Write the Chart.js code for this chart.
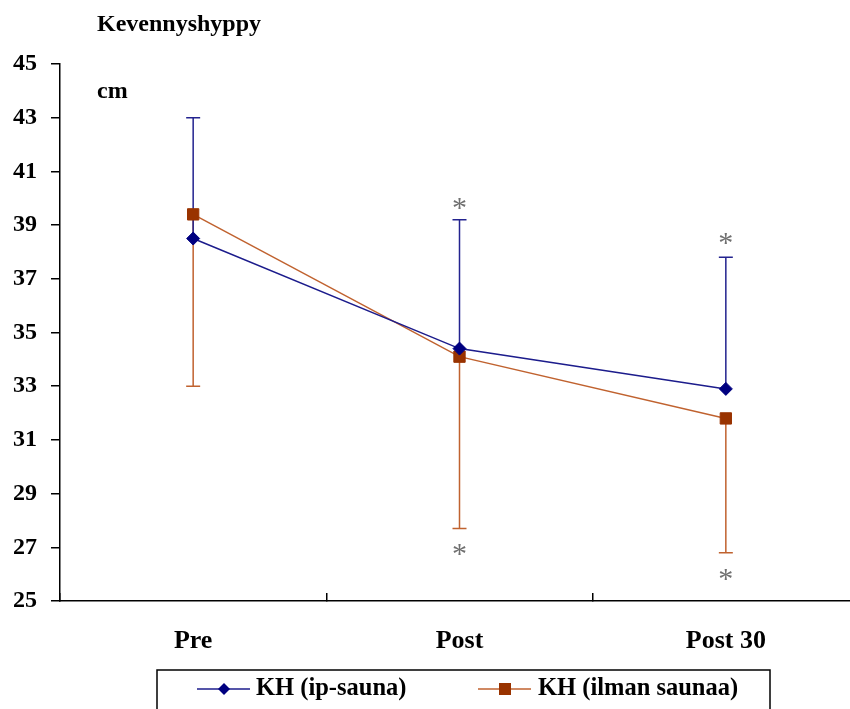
<!DOCTYPE html>
<html>
<head>
<meta charset="utf-8">
<script src="https://cdn.jsdelivr.net/npm/chart.js@4"></script>
<style>
  html, body { margin: 0; padding: 0; background: #fff; overflow: hidden; }
  #wrap { width: 850px; height: 709px; overflow: hidden; }
</style>
</head>
<body>
<div id="wrap"><canvas id="chart" width="868" height="709"></canvas></div>
<script>
// mittauskerrat ja keskiarvot (cm)
const ajankohdat = ['Pre', 'Post', 'Post 30'];
const ipSauna = [38.5, 34.4, 32.9];
const ilmanSaunaa = [39.4, 34.1, 31.8];
// keskihajonnat: ip-sauna ylös, ilman saunaa alas
const ipSaunaSD = [4.5, 4.8, 4.9];
const ilmanSaunaaSD = [6.4, 6.4, 5.0];
// tähtimerkkien paikat (merkitsevä ero)
const tahtiYlos = [null, 39.8, 38.5];
const tahtiAlas = [null, 26.9, 26.0];

const serif = '"Liberation Serif", "Times New Roman", serif';

const errorBars = {
  id: 'errorBars',
  beforeDatasetsDraw(chart) {
    const ctx = chart.ctx;
    const y = chart.scales.y;
    const draw = (dsIndex, sd, dir, color) => {
      const meta = chart.getDatasetMeta(dsIndex);
      const vals = chart.data.datasets[dsIndex].data;
      ctx.save();
      ctx.strokeStyle = color;
      ctx.lineWidth = 1.5;
      meta.data.forEach((pt, i) => {
        const x = pt.x;
        const y0 = y.getPixelForValue(vals[i]);
        const y1 = y.getPixelForValue(vals[i] + dir * sd[i]);
        ctx.beginPath();
        ctx.moveTo(x, y0);
        ctx.lineTo(x, y1);
        ctx.moveTo(x - 7, y1);
        ctx.lineTo(x + 7, y1);
        ctx.stroke();
      });
      ctx.restore();
    };
    draw(1, ilmanSaunaaSD, -1, '#c0622f');
    draw(0, ipSaunaSD, 1, '#23238f');
  }
};

const extras = {
  id: 'extras',
  afterDraw(chart) {
    const ctx = chart.ctx;
    const x = chart.scales.x;
    const y = chart.scales.y;
    ctx.save();
    // otsikko ja yksikkö
    ctx.fillStyle = '#000';
    ctx.font = 'bold 24px ' + serif;
    ctx.textAlign = 'left';
    ctx.textBaseline = 'middle';
    ctx.fillText('Kevennyshyppy', 97, 25);
    ctx.fillText('cm', 97, 92);

    // tähtimerkit
    ctx.font = '30px ' + serif;
    ctx.fillStyle = '#707070';
    ctx.textAlign = 'center';
    ctx.textBaseline = 'alphabetic';
    const m = ctx.measureText('*');
    const off = (m.actualBoundingBoxAscent - m.actualBoundingBoxDescent) / 2;
    [tahtiYlos, tahtiAlas].forEach(arr => {
      arr.forEach((v, i) => {
        if (v === null) return;
        ctx.fillText('*', x.getPixelForValue(i), y.getPixelForValue(v) + off);
      });
    });

    // selite laatikossa
    ctx.strokeStyle = '#000';
    ctx.lineWidth = 1.5;
    ctx.strokeRect(157, 670, 613, 60);
    ctx.font = 'bold 24.5px ' + serif;
    ctx.textAlign = 'left';
    ctx.textBaseline = 'middle';
    const items = [
      { x0: 197, tx: 256 },
      { x0: 478, tx: 538 }
    ];
    chart.data.datasets.forEach((ds, i) => {
      const it = items[i];
      const cy = 689;
      ctx.strokeStyle = ds.borderColor;
      ctx.lineWidth = 1.5;
      ctx.beginPath();
      ctx.moveTo(it.x0, cy);
      ctx.lineTo(it.x0 + 53, cy);
      ctx.stroke();
      ctx.fillStyle = ds.pointBackgroundColor;
      ctx.beginPath();
      const cx = it.x0 + 27;
      if (ds.pointStyle === 'rectRot') {
        ctx.moveTo(cx - 6, cy);
        ctx.lineTo(cx, cy - 6);
        ctx.lineTo(cx + 6, cy);
        ctx.lineTo(cx, cy + 6);
        ctx.closePath();
      } else {
        ctx.rect(cx - 6, cy - 6, 12, 12);
      }
      ctx.fill();
      ctx.fillStyle = '#000';
      ctx.fillText(ds.label, it.tx, cy);
    });
    ctx.restore();
  }
};

new Chart(document.getElementById('chart'), {
  type: 'line',
  data: {
    labels: ajankohdat,
    datasets: [
      {
        label: 'KH (ip-sauna)',
        data: ipSauna,
        borderColor: '#1c1c8c',
        borderWidth: 1.5,
        pointStyle: 'rectRot',
        pointRadius: 6.5,
        pointBackgroundColor: '#000080',
        pointBorderColor: '#000080',
        pointBorderWidth: 1,
        tension: 0
      },
      {
        label: 'KH (ilman saunaa)',
        data: ilmanSaunaa,
        borderColor: '#c0622f',
        borderWidth: 1.5,
        pointStyle: 'rect',
        pointRadius: 8,
        pointBackgroundColor: '#993300',
        pointBorderColor: '#993300',
        pointBorderWidth: 1,
        tension: 0
      }
    ]
  },
  options: {
    responsive: false,
    devicePixelRatio: 1,
    animation: false,
    layout: { padding: { top: 64, left: 0, right: 0, bottom: 0 } },
    plugins: {
      legend: { display: false },
      tooltip: { enabled: false },
      title: { display: false }
    },
    scales: {
      x: {
        offset: true,
        afterFit(scale) { scale.height = 108; },
        grid: {
          offset: true,
          drawOnChartArea: false,
          tickLength: -8,
          color: '#000',
          lineWidth: 1.5
        },
        border: { color: '#000', width: 1.5 },
        ticks: {
          color: '#000',
          padding: 33,
          font: { family: serif, size: 26, weight: 'bold' },
          maxRotation: 0
        }
      },
      y: {
        min: 25,
        max: 45,
        afterFit(scale) { scale.width = 60; },
        grid: {
          drawOnChartArea: false,
          tickLength: 9,
          color: '#000',
          lineWidth: 1.5
        },
        border: { color: '#000', width: 1.5 },
        ticks: {
          stepSize: 2,
          color: '#000',
          padding: 14,
          font: { family: serif, size: 24, weight: 'bold' }
        }
      }
    }
  },
  plugins: [errorBars, extras]
});
</script>
</body>
</html>
